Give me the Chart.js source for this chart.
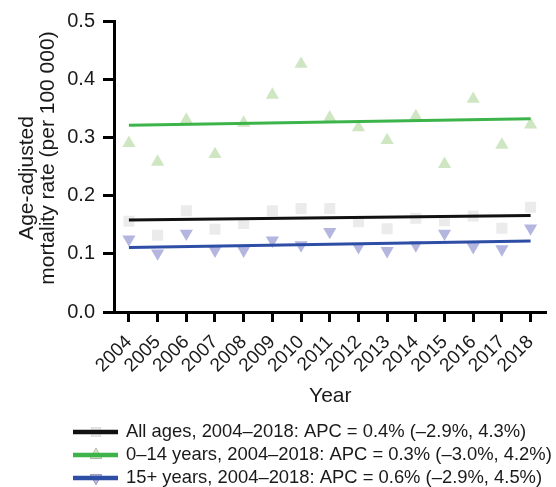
<!DOCTYPE html>
<html>
<head>
<meta charset="utf-8">
<script src="https://cdn.jsdelivr.net/npm/chart.js@4/dist/chart.umd.min.js"></script>
<style>
    html, body { margin: 0; padding: 0; background: #fff; }
    #wrap { width: 556px; height: 487px; }
</style>
</head>
<body>
<div id="wrap"><canvas id="mortalityChart" width="556" height="487"></canvas></div>
<script>
/* =====================================================
   DATA
===================================================== */

const years = [2004, 2005, 2006, 2007, 2008, 2009, 2010, 2011, 2012, 2013, 2014, 2015, 2016, 2017, 2018];

const allAges   = [0.156, 0.132, 0.174, 0.142, 0.152, 0.174, 0.178, 0.178, 0.155, 0.143, 0.161, 0.157, 0.165, 0.144, 0.180];
const age0to14  = [0.290, 0.258, 0.330, 0.271, 0.325, 0.373, 0.426, 0.334, 0.317, 0.295, 0.336, 0.254, 0.366, 0.287, 0.322];
const age15plus = [0.125, 0.101, 0.135, 0.106, 0.106, 0.123, 0.115, 0.138, 0.112, 0.105, 0.115, 0.135, 0.112, 0.108, 0.144];

// fitted trend, value at 2004 and at 2018
const trendAll   = [0.158, 0.166];
const trend0to14 = [0.321, 0.332];
const trend15    = [0.111, 0.122];

const yTicks = [0, 0.1, 0.2, 0.3, 0.4, 0.5];

const yTitle = ["Age-adjusted", "mortality rate (per 100 000)"];
const xTitle = "Year";

const legendLabels = [
    "All ages, 2004\u20132018: APC = 0.4% (\u20132.9%, 4.3%)",
    "0\u201314 years, 2004\u20132018: APC = 0.3% (\u20133.0%, 4.2%)",
    "15+ years, 2004\u20132018: APC = 0.6% (\u20132.9%, 4.5%)"
];

/* =====================================================
   STYLE
===================================================== */

const FONT = "'Liberation Sans', Arial, Helvetica, sans-serif";
const TEXT = "#1a1a1a";

const series = [
    { values: allAges,   trend: trendAll,   line: "#111111", mark: "#ebebeb", style: "rect",     rot: 0,   radius: 7.8 },
    { values: age0to14,  trend: trend0to14, line: "#3cb44a", mark: "#cfe6c3", style: "triangle", rot: 0,   radius: 7.6 },
    { values: age15plus, trend: trend15,    line: "#2e4ea6", mark: "#b4b6df", style: "triangle", rot: 180, radius: 7.6 }
];

/* =====================================================
   DATASETS
===================================================== */

const datasets = [];

series.forEach((s, i) => {
    datasets.push({
        type: "scatter",
        label: legendLabels[i],
        data: years.map((yr, k) => ({ x: yr, y: s.values[k] })),
        pointStyle: s.style,
        rotation: s.rot,
        pointRadius: s.radius,
        pointHoverRadius: s.radius,
        backgroundColor: s.mark,
        borderColor: s.mark,
        borderWidth: 0,
        order: 10
    });
});

series.forEach((s, i) => {
    datasets.push({
        type: "line",
        label: "trend " + i,
        data: [
            { x: years[0], y: s.trend[0] },
            { x: years[years.length - 1], y: s.trend[1] }
        ],
        borderColor: s.line,
        borderWidth: 3,
        pointRadius: 0,
        fill: false,
        tension: 0,
        order: 1
    });
});

/* =====================================================
   Y TITLE + LEGEND (drawn by hand)
===================================================== */

const extrasPlugin = {
    id: "extras",
    afterDraw(chart) {
        const ctx = chart.ctx;
        ctx.save();

        // rotated y title, two lines
        ctx.fillStyle = TEXT;
        ctx.font = "21px " + FONT;
        ctx.textAlign = "center";
        ctx.textBaseline = "middle";
        const titlePos = [[27, 178], [48, 158]];
        yTitle.forEach((txt, i) => {
            ctx.save();
            ctx.translate(titlePos[i][0], titlePos[i][1]);
            ctx.rotate(-Math.PI / 2);
            ctx.fillText(txt, 0, 0);
            ctx.restore();
        });

        // legend rows
        const rowY = [432, 455, 478];
        series.forEach((s, i) => {
            const y = rowY[i];
            Chart.helpers.drawPoint(ctx, {
                pointStyle: s.style,
                rotation: s.rot,
                radius: 7,
                borderWidth: 0
            }, 96, y);
            ctx.fillStyle = s.mark;
            ctx.fill();

            ctx.strokeStyle = s.line;
            ctx.lineWidth = 4.5;
            ctx.beginPath();
            ctx.moveTo(73, y);
            ctx.lineTo(118, y);
            ctx.stroke();

            ctx.fillStyle = TEXT;
            ctx.font = "18.4px " + FONT;
            ctx.textBaseline = "middle";
            ctx.textAlign = "left";
            ctx.fillText(legendLabels[i], 126, y);
        });
        ctx.restore();
    }
};

/* =====================================================
   CHART
===================================================== */

const ctx = document.getElementById("mortalityChart").getContext("2d");

new Chart(ctx, {
    data: { datasets },
    plugins: [extrasPlugin],
    options: {
        responsive: false,
        animation: false,
        events: [],
        layout: { padding: { top: 21, right: 3, bottom: 0, left: 0 } },
        plugins: {
            legend: { display: false },
            tooltip: { enabled: false }
        },
        scales: {
            x: {
                type: "linear",
                min: 2003.48,
                max: 2018.56,
                afterBuildTicks: scale => { scale.ticks = years.map(v => ({ value: v })); },
                afterFit: scale => { scale.height = 175; },
                border: { display: true, color: "#000", width: 3 },
                grid: { drawOnChartArea: false, color: "#000", tickLength: 10, tickWidth: 3 },
                ticks: {
                    color: TEXT,
                    font: { family: FONT, size: 19 },
                    autoSkip: false,
                    minRotation: 45,
                    maxRotation: 45,
                    padding: 9,
                    callback: v => String(v)
                },
                title: {
                    display: true,
                    text: xTitle,
                    color: TEXT,
                    font: { family: FONT, size: 21 },
                    padding: { top: 0, bottom: 78 }
                }
            },
            y: {
                min: 0,
                max: 0.5,
                afterBuildTicks: scale => { scale.ticks = yTicks.map(v => ({ value: v })); },
                afterFit: scale => { scale.width = 114; },
                border: { display: true, color: "#000", width: 3 },
                grid: { drawOnChartArea: false, color: "#000", tickLength: 11, tickWidth: 3 },
                ticks: {
                    color: TEXT,
                    font: { family: FONT, size: 20 },
                    padding: 8,
                    callback: v => v.toFixed(1)
                }
            }
        }
    }
});
</script>
</body>
</html>
